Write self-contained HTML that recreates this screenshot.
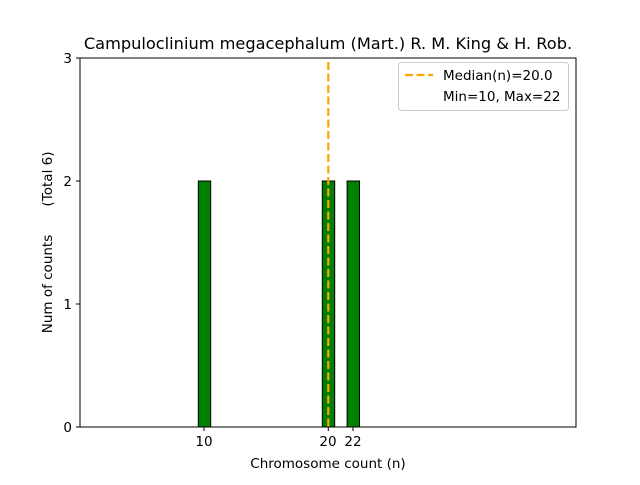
<!DOCTYPE html>
<html><head><style>body{margin:0;background:#fff}</style></head><body>
<svg width="640" height="480" xmlns="http://www.w3.org/2000/svg" font-family="DejaVu Sans, Liberation Sans, sans-serif">
<rect width="640" height="480" fill="#fff"/>
<line x1="80" y1="427" x2="396" y2="427" stroke="#000" stroke-width="1"/>
<g fill="#008000" stroke="#000" stroke-width="1">
<rect x="198.3" y="181" width="12.4" height="246"/>
<rect x="322.3" y="181" width="12.4" height="246"/>
<rect x="347.1" y="181" width="12.4" height="246"/>
</g>
<line x1="328.3" y1="62" x2="328.3" y2="427" stroke="#FFA500" stroke-width="2.2" stroke-dasharray="8,3.5"/>
<rect x="80" y="58" width="496" height="369" fill="none" stroke="#000" stroke-width="1"/>
<g stroke="#000">
<line x1="204" y1="427" x2="204" y2="431"/><line x1="328.3" y1="427" x2="328.3" y2="431"/><line x1="353" y1="427" x2="353" y2="431"/>
<line x1="76" y1="427" x2="80" y2="427"/><line x1="76" y1="304" x2="80" y2="304"/><line x1="76" y1="181" x2="80" y2="181"/><line x1="76" y1="58" x2="80" y2="58"/>
</g>
<g font-size="13.5" fill="#000">
<text x="204" y="446" text-anchor="middle">10</text>
<text x="328" y="446" text-anchor="middle">20</text>
<text x="353" y="446" text-anchor="middle">22</text>
<text x="72" y="432" text-anchor="end">0</text>
<text x="72" y="309" text-anchor="end">1</text>
<text x="72" y="186" text-anchor="end">2</text>
<text x="72" y="63" text-anchor="end">3</text>
<text x="328" y="468" text-anchor="middle">Chromosome count (n)</text>
<text transform="translate(52,284) rotate(-90)" text-anchor="middle">Num of counts</text>
<text transform="translate(52,179) rotate(-90)" text-anchor="middle">(Total 6)</text>
</g>
<text x="328" y="49" text-anchor="middle" font-size="16.2">Campuloclinium megacephalum (Mart.) R. M. King &amp; H. Rob.</text>
<rect x="398.5" y="62.5" width="170" height="48" rx="3" fill="#fff" stroke="#ccc"/>
<line x1="405" y1="75" x2="433" y2="75" stroke="#FFA500" stroke-width="2.2" stroke-dasharray="8,3.5"/>
<text x="443" y="80" font-size="13.5">Median(n)=20.0</text>
<text x="443" y="101" font-size="13.5">Min=10, Max=22</text>
</svg>
</body></html>
